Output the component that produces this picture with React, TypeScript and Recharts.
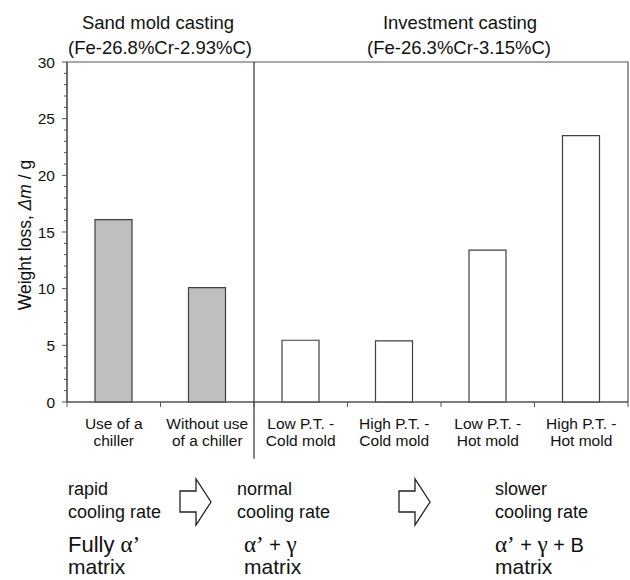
import React from 'react';
import { BarChart, Bar, XAxis, YAxis, Cell, ReferenceArea, ReferenceLine } from 'recharts';

const categories = [
  'Use of a\nchiller',
  'Without use\nof a chiller',
  'Low P.T. -\nCold mold',
  'High P.T. -\nCold mold',
  'Low P.T. -\nHot mold',
  'High P.T. -\nHot mold',
];
const weightLoss = [16.1, 10.1, 5.45, 5.4, 13.4, 23.5];
const castingType = ['sand', 'sand', 'investment', 'investment', 'investment', 'investment'];
const majorTicks = [0, 5, 10, 15, 20, 25, 30];
const allTicks = Array.from({ length: 31 }, (_, i) => i);
const groupTitles = [
  ['Sand mold casting', '(Fe-26.8%Cr-2.93%C)'],
  ['Investment casting', '(Fe-26.3%Cr-3.15%C)'],
];

const data = categories.map((name, i) => ({ name, loss: weightLoss[i], type: castingType[i] }));

const SANS = "'Liberation Sans', Arial, sans-serif";
const SERIF = "'Liberation Serif', 'Times New Roman', serif";
const AXIS = '#555';
const fillFor: Record<string, string> = { sand: '#bfbfbf', investment: '#ffffff' };

const YTick = (props: any) => {
  const { x, y, payload } = props;
  const v = payload.value;
  const major = majorTicks.includes(v);
  return (
    <g>
      <line x1={x - (major ? 5 : 3)} x2={x} y1={y} y2={y} stroke={AXIS} strokeWidth={1} />
      {major && (
        <text x={x - 12} y={y} dy={5.5} textAnchor="end" fontSize={15.5} fontFamily={SANS} fill="#111">
          {v}
        </text>
      )}
    </g>
  );
};

const XTick = (props: any) => {
  const { x, y, payload, index } = props;
  const half = payload.offset ?? 0;
  const lines = String(payload.value).split('\n');
  const last = index === categories.length - 1;
  return (
    <g>
      <line x1={x - half} x2={x - half} y1={y} y2={y + 5} stroke={AXIS} />
      {last && <line x1={x + half} x2={x + half} y1={y} y2={y + 5} stroke={AXIS} />}
      <text x={x} y={y + 27} textAnchor="middle" fontSize={15.5} fontFamily={SANS} fill="#111">
        {lines.map((l, i) => (
          <tspan key={i} x={x} dy={i === 0 ? 0 : 17}>
            {l}
          </tspan>
        ))}
      </text>
    </g>
  );
};

const YLabel = (props: any) => {
  const { viewBox } = props;
  const cx = 31;
  const cy = viewBox.y + viewBox.height / 2 + 3;
  return (
    <text
      x={cx}
      y={cy}
      transform={`rotate(-90, ${cx}, ${cy})`}
      textAnchor="middle"
      fontSize={17.5}
      fontFamily={SANS}
      fill="#111"
    >
      Weight loss, <tspan fontStyle="italic">Δm</tspan> / g
    </text>
  );
};

const Arrow = ({ x, y }: { x: number; y: number }) => (
  <path
    d={`M ${x} ${y + 12} L ${x + 16} ${y + 12} L ${x + 16} ${y} L ${x + 31} ${y + 23} L ${x + 16} ${y + 46} L ${x + 16} ${y + 33} L ${x} ${y + 33} Z`}
    fill="#fff"
    stroke="#222"
    strokeWidth={1.3}
  />
);

export default function App() {
  return (
    <div style={{ position: 'absolute', left: 0, top: 0, width: 630, height: 580, background: '#fff' }}>
      <BarChart
        width={630}
        height={580}
        data={data}
        margin={{ top: 62, right: 2, bottom: 0, left: 0 }}
        barSize={37}
      >
        <ReferenceArea y1={0} y2={30} fill="none" stroke={AXIS} strokeWidth={1.2} ifOverflow="visible" />
        <XAxis
          dataKey="name"
          height={178}
          interval={0}
          tickLine={false}
          tickSize={0}
          tickMargin={0}
          axisLine={{ stroke: AXIS, strokeWidth: 1.2 }}
          tick={<XTick />}
        />
        <YAxis
          width={67}
          domain={[0, 30]}
          ticks={allTicks}
          interval={0}
          tickLine={false}
          tickSize={0}
          tickMargin={0}
          axisLine={{ stroke: AXIS, strokeWidth: 1.2 }}
          tick={<YTick />}
          label={<YLabel />}
        />
        <ReferenceLine
          segment={[
            { x: categories[2], y: 30 },
            { x: categories[2], y: -5 },
          ]}
          position="start"
          ifOverflow="visible"
          stroke="#333"
          strokeWidth={1.2}
        />
        <Bar dataKey="loss" stroke="#404040" strokeWidth={1.2} isAnimationActive={false}>
          {data.map((d, i) => (
            <Cell key={i} fill={fillFor[d.type]} />
          ))}
        </Bar>
      </BarChart>
      <svg
        width={630}
        height={580}
        style={{ position: 'absolute', left: 0, top: 0, pointerEvents: 'none' }}
        fontFamily={SANS}
      >
        <text x={158} y={29} textAnchor="middle" fontSize={18.5} fill="#111">{groupTitles[0][0]}</text>
        <text x={160} y={54} textAnchor="middle" fontSize={18.5} fill="#111">{groupTitles[0][1]}</text>
        <text x={460} y={29} textAnchor="middle" fontSize={18.5} fill="#111">{groupTitles[1][0]}</text>
        <text x={459} y={54} textAnchor="middle" fontSize={18.5} fill="#111">{groupTitles[1][1]}</text>

        <text x={68} y={495} fontSize={18} fill="#111">rapid</text>
        <text x={68} y={518} fontSize={18} fill="#111">cooling rate</text>
        <text x={68} y={552} fontSize={22} fill="#111">
          Fully <tspan fontFamily={SERIF} fontSize={23}>α’</tspan>
        </text>
        <text x={68} y={574} fontSize={21} fill="#111">matrix</text>

        <Arrow x={180} y={479} />

        <text x={237} y={495} fontSize={18} fill="#111">normal</text>
        <text x={237} y={518} fontSize={18} fill="#111">cooling rate</text>
        <text x={244} y={552} fontSize={20} fill="#111">
          <tspan fontFamily={SERIF} fontSize={23}>α’</tspan> + <tspan fontFamily={SERIF} fontSize={23}>γ</tspan>
        </text>
        <text x={244} y={574} fontSize={21} fill="#111">matrix</text>

        <Arrow x={399} y={479} />

        <text x={495} y={495} fontSize={18} fill="#111">slower</text>
        <text x={495} y={518} fontSize={18} fill="#111">cooling rate</text>
        <text x={495} y={552} fontSize={20} fill="#111">
          <tspan fontFamily={SERIF} fontSize={23}>α’</tspan> + <tspan fontFamily={SERIF} fontSize={23}>γ</tspan> + B
        </text>
        <text x={495} y={574} fontSize={21} fill="#111">matrix</text>
      </svg>
    </div>
  );
}
